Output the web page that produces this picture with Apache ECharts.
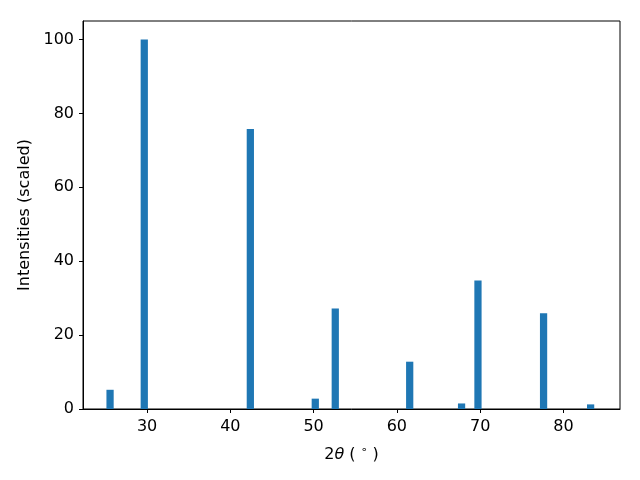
<!DOCTYPE html>
<html>
<head>
<meta charset="utf-8">
<script src="https://cdn.jsdelivr.net/npm/echarts@6/dist/echarts.min.js"></script>
<style>html,body{margin:0;padding:0;background:#fff}#c{width:640px;height:480px}</style>
</head>
<body>
<div id="c"></div>
<script>
const twoTheta = [25.55, 29.66, 42.4, 50.2, 52.6, 61.54, 67.77, 69.74, 77.62, 83.27];
const intensities = [5.2, 100, 75.8, 2.8, 27.2, 12.8, 1.5, 34.8, 25.9, 1.25];
const xTicks = [30, 40, 50, 60, 70, 80];
const yTicks = [0, 20, 40, 60, 80, 100];

const chart = echarts.init(document.getElementById('c'), null, {renderer: 'canvas'});
const font = 'DejaVu Sans';
chart.setOption({
  animation: false,
  grid: {left: 83, right: 20, top: 21, bottom: 71, show: true, borderColor: '#000', borderWidth: 1},
  xAxis: {
    type: 'value', min: 22.3, max: 86.8,
    axisLine: {show: true, onZero: false, lineStyle: {color: '#000', width: 1}},
    axisTick: {show: true, inside: false, length: 4, lineStyle: {color: '#000'}, customValues: xTicks},
    axisLabel: {color: '#000', fontSize: 16, fontFamily: font, margin: 10, customValues: xTicks},
    splitLine: {show: false},
    name: '2{it|θ} ( {sup|∘} )',
    nameLocation: 'middle', nameGap: 36,
    nameTextStyle: {color: '#000', fontSize: 16, fontFamily: font,
      rich: {it: {fontStyle: 'italic', fontSize: 16, fontFamily: font, color: '#000'},
             sup: {fontSize: 11, fontFamily: font, color: '#000', verticalAlign: 'top', padding: [0,0,8,0]}}}
  },
  yAxis: {
    type: 'value', min: 0, max: 105,
    axisLine: {show: true, lineStyle: {color: '#000', width: 1}},
    axisTick: {show: true, inside: false, length: 4, lineStyle: {color: '#000'}, customValues: yTicks},
    axisLabel: {color: '#000', fontSize: 16, fontFamily: font, margin: 9, customValues: yTicks},
    splitLine: {show: false},
    name: 'Intensities (scaled)',
    nameLocation: 'middle', nameGap: 50,
    nameTextStyle: {color: '#000', fontSize: 16, fontFamily: font}
  },
  series: [{
    type: 'custom',
    renderItem: function (params, api) {
      const x = api.value(0), y = api.value(1);
      const p0 = api.coord([x - 0.435, y]);
      const p1 = api.coord([x + 0.435, 0]);
      return {type: 'rect', shape: {x: p0[0], y: p0[1], width: p1[0] - p0[0], height: p1[1] - p0[1]},
        style: {fill: '#1f77b4'}};
    },
    data: twoTheta.map((t, i) => [t, intensities[i]])
  }]
});
</script>
</body>
</html>
